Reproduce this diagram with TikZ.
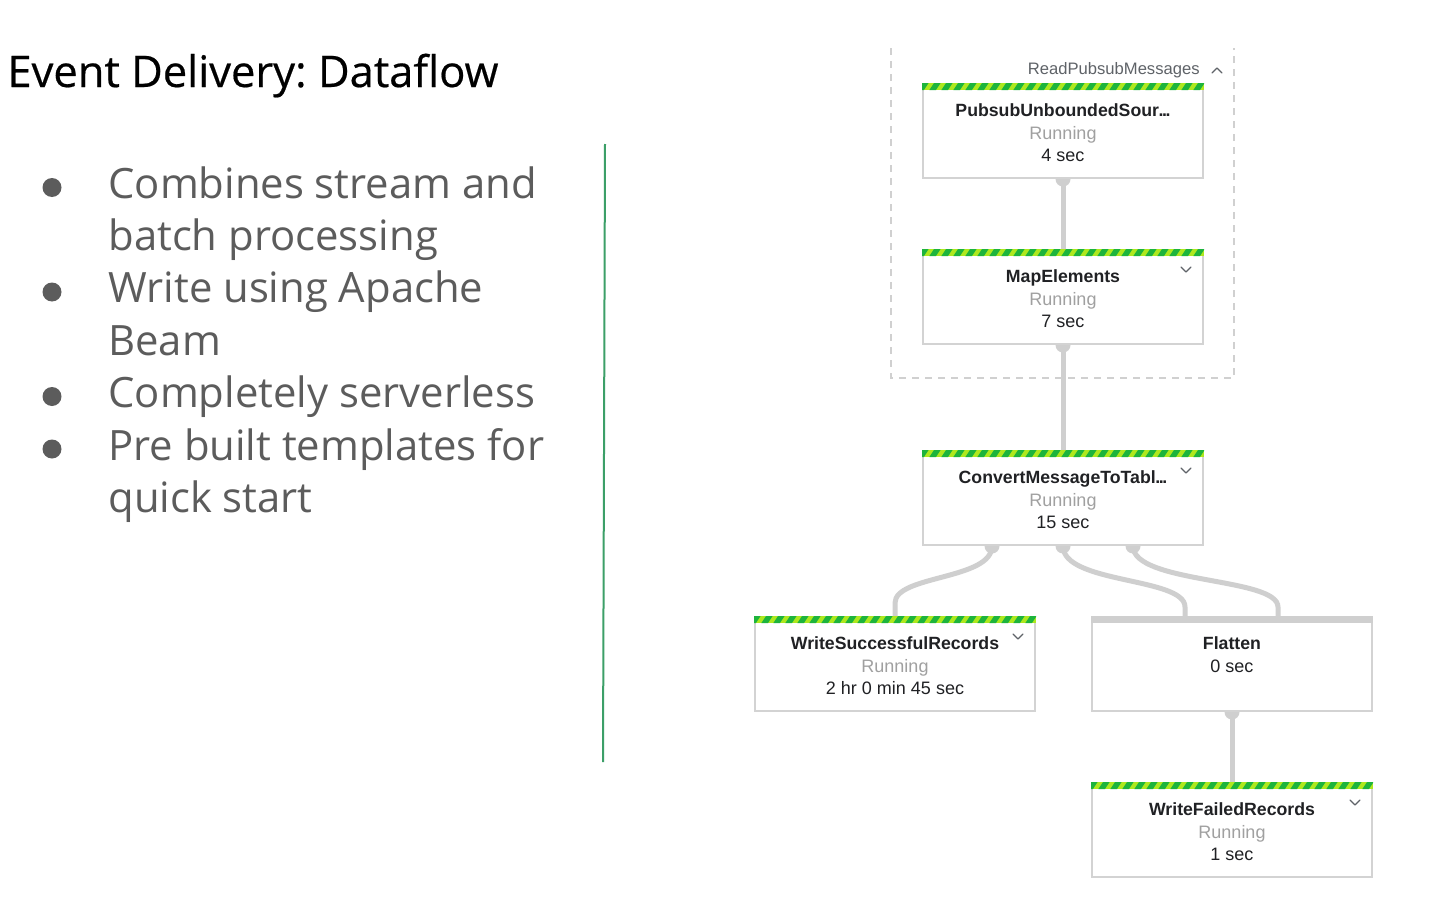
\documentclass[tikz,border=0pt]{standalone}
\usepackage{fontspec}
\setmainfont{Open Sans}
\newfontfamily\uifont{Liberation Sans}
\newfontfamily\titlefont[FakeBold=0.45]{Open Sans}
\usetikzlibrary{calc,backgrounds}
\definecolor{bordergray}{HTML}{D3D3D3}
\definecolor{conngray}{HTML}{CFCFCF}
\definecolor{grpgray}{HTML}{D0D0D0}
\definecolor{stgreen}{HTML}{1DB43C}
\definecolor{stlime}{HTML}{AEE81E}
\definecolor{runcol}{HTML}{A0A0A0}
\definecolor{timecol}{HTML}{202124}
\definecolor{chevcol}{HTML}{5F6368}
\definecolor{bulcol}{HTML}{5C5C5C}
\definecolor{sepgreen}{HTML}{3C9F68}
\newcommand{\ellip}{\kern-0.2pt.\kern-0.7pt.\kern-0.7pt.}
\newcommand{\stripebar}[1]{%
  \begin{scope}
    \clip ($(#1.north west)+(0,-1)$) rectangle ($(#1.north east)+(0,6)$);
    \fill[stlime] ($(#1.north west)+(0,-1)$) rectangle ($(#1.north east)+(0,6)$);
    \foreach \k in {0,...,24}{
      \fill[stgreen] ($(#1.north west)+(\k*12,-1)$) -- ++(6.6,0) -- ++(-4.6,7) -- ++(-6.6,0) -- cycle;
    }
  \end{scope}}
\frenchspacing
\begin{document}
\begin{tikzpicture}[x=0.5pt,y=-0.5pt,
  box/.style={draw=bordergray, fill=white, line width=1pt, minimum width=140pt, minimum height=46.5pt, anchor=north west, inner sep=0pt},
  ttl/.style={font=\uifont\bfseries\fontsize{8.85}{10}\selectfont, text=timecol, inner sep=0pt, anchor=base},
  run/.style={font=\uifont\fontsize{9}{10}\selectfont, text=runcol, inner sep=0pt, anchor=base},
  tim/.style={font=\uifont\fontsize{9}{10}\selectfont, text=timecol, inner sep=0pt, anchor=base},
  conn/.style={draw=conngray, line width=2.5pt},
  chev/.style={draw=chevcol, line width=0.6pt, line cap=round, line join=round},
  grp/.style={draw=grpgray, line width=0.8pt, dash pattern=on 3.5pt off 3pt},
  grplabel/.style={font=\uifont\fontsize{8.3}{10}\selectfont, text=chevcol, inner sep=0pt, anchor=base east},
  headline/.style={font=\titlefont\fontsize{21.75}{26}\selectfont, text=black, inner sep=0pt, anchor=base west},
  bul/.style={font=\fontsize{20.9}{26}\selectfont, text=bulcol, inner sep=0pt, anchor=base west},
  dot/.style={fill=bulcol},
]
\useasboundingbox (0,0) rectangle (1448,921);

% left side
\node[headline] (title) at (7,87) {Event Delivery: Dataflow};
\node[bul] (l1) at (108,198) {Combines stream and};
\node[bul] (l2) at (108,250.4) {batch processing};
\node[bul] (l3) at (108,302.8) {Write using Apache};
\node[bul] (l4) at (108,355.2) {Beam};
\node[bul] (l5) at (108,407.6) {Completely serverless};
\node[bul] (l6) at (108,460) {Pre built templates for};
\node[bul] (l7) at (108,512.4) {quick start};
\fill[dot] (52,187.5) circle (9.5);
\fill[dot] (52,292) circle (9.5);
\fill[dot] (52,396.5) circle (9.5);
\fill[dot] (52,449) circle (9.5);

\coordinate (septop) at (605,144);
\coordinate (sepbot) at (603,762);
\draw[sepgreen, line width=1pt] (septop) -- (sepbot);

% group
\draw[grp] (891,48) -- (891,378) -- (1234,378) -- (1234,48);
\node[grplabel] (grplbl) at (1200,75) {ReadPubsubMessages};
\draw[chev] (1212,73) -- (1217,68) -- (1222,73);

% boxes
\node[box] (pubsub) at (922,84) {};
\node[box] (map) at (922,250) {};
\node[box] (conv) at (922,451) {};
\node[box] (wsr) at (754,617) {};
\node[box] (flat) at (1091,617) {};
\node[box] (wfr) at (1091,783) {};

\stripebar{pubsub}
\stripebar{map}
\stripebar{conv}
\stripebar{wsr}
\stripebar{wfr}
\fill[conngray] ($(flat.north west)+(0,-1)$) rectangle ($(flat.north east)+(0,6)$);

% texts
\node[ttl] (pubsubT) at ($(pubsub.north)+(0,32.5)$) {PubsubUnboundedSour\ellip};
\node[run] (pubsubR) at ($(pubsub.north)+(0,55)$) {Running};
\node[tim] (pubsubS) at ($(pubsub.north)+(0,77.5)$) {4 sec};

\node[ttl] (mapT) at ($(map.north)+(0,32.5)$) {MapElements};
\node[run] (mapR) at ($(map.north)+(0,55)$) {Running};
\node[tim] (mapS) at ($(map.north)+(0,77.5)$) {7 sec};

\node[ttl] (convT) at ($(conv.north)+(0,32.5)$) {ConvertMessageToTabl\ellip};
\node[run] (convR) at ($(conv.north)+(0,55)$) {Running};
\node[tim] (convS) at ($(conv.north)+(0,77.5)$) {15 sec};

\node[ttl] (wsrT) at ($(wsr.north)+(0,32.5)$) {WriteSuccessfulRecords};
\node[run] (wsrR) at ($(wsr.north)+(0,55)$) {Running};
\node[tim] (wsrS) at ($(wsr.north)+(0,77.5)$) {2 hr 0 min 45 sec};

\node[ttl] (flatT) at ($(flat.north)+(0,32.5)$) {Flatten};
\node[tim] (flatS) at ($(flat.north)+(0,55)$) {0 sec};

\node[ttl] (wfrT) at ($(wfr.north)+(0,32.5)$) {WriteFailedRecords};
\node[run] (wfrR) at ($(wfr.north)+(0,55)$) {Running};
\node[tim] (wfrS) at ($(wfr.north)+(0,77.5)$) {1 sec};

% chevrons
\draw[chev] ($(map.north west)+(259,17)$) -- ++(5,5) -- ++(5,-5);
\draw[chev] ($(conv.north west)+(259,17)$) -- ++(5,5) -- ++(5,-5);
\draw[chev] ($(wsr.north west)+(259,17)$) -- ++(5,5) -- ++(5,-5);
\draw[chev] ($(wfr.north west)+(259,17)$) -- ++(5,5) -- ++(5,-5);

% connectors
\coordinate (c1) at ($(conv.south west)+(70,0)$);
\coordinate (c2) at (conv.south);
\coordinate (c3) at ($(conv.south west)+(211,0)$);
\coordinate (e1) at (wsr.north);
\coordinate (e2) at ($(flat.north west)+(94,0)$);
\coordinate (e3) at ($(flat.north west)+(187,0)$);
\begin{scope}[on background layer]
  \fill[white] (0,0) rectangle (1448,921);
  \draw[conn] (pubsub.south) -- (map.north);
  \draw[conn] (map.south) -- (conv.north);
  \draw[conn] (flat.south) -- (wfr.north);
  \draw[conn] (c1) .. controls ($(c1)+(0,34)$) and ($(e1)+(0,-42)$) .. ($(e1)+(0,-14)$) -- (e1);
  \draw[conn] (c2) .. controls ($(c2)+(0,38)$) and ($(e2)+(0,-40)$) .. ($(e2)+(0,-10)$) -- (e2);
  \draw[conn] (c3) .. controls ($(c3)+(0,38)$) and ($(e3)+(0,-40)$) .. ($(e3)+(0,-10)$) -- (e3);
  \foreach \p in {pubsub.south, map.south, flat.south, c1, c2, c3}{
    \fill[conngray] (\p) circle (7.5);
  }
\end{scope}
\end{tikzpicture}
\end{document}
